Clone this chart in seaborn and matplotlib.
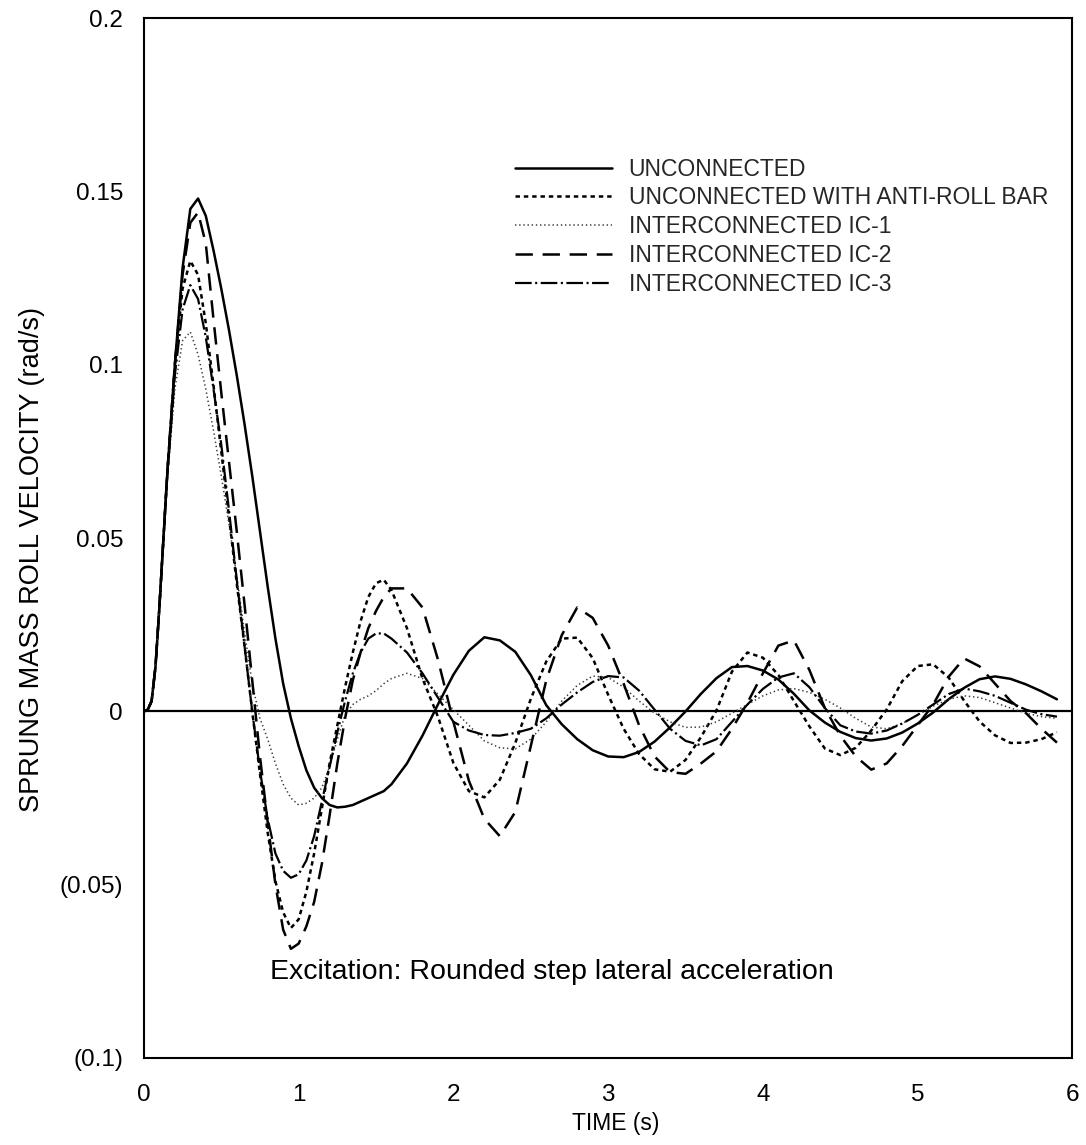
import matplotlib
matplotlib.use("Agg")
import matplotlib.pyplot as plt
import seaborn as sns
import pandas as pd
from matplotlib.ticker import MultipleLocator, FixedLocator, FixedFormatter

sns.set_style("white")
plt.rcParams['font.family'] = ['Liberation Sans', 'DejaVu Sans']
plt.rcParams['lines.scale_dashes'] = False

# ---------------- data ----------------
time = [0.00, 0.025, 0.05, 0.075, 0.10, 0.15, 0.20, 0.25, 0.30, 0.35, 0.40, 0.45, 0.50, 0.55,
        0.60, 0.65, 0.70, 0.75, 0.80, 0.85, 0.90, 0.95, 1.00, 1.05, 1.10, 1.15, 1.20,
        1.25, 1.30, 1.35, 1.40, 1.45, 1.50, 1.55, 1.60, 1.70, 1.80, 1.90, 2.00, 2.10,
        2.20, 2.30, 2.40, 2.50, 2.60, 2.70, 2.80, 2.90, 3.00, 3.10, 3.20, 3.30, 3.40,
        3.50, 3.60, 3.70, 3.80, 3.90, 4.00, 4.10, 4.20, 4.30, 4.40, 4.50, 4.60, 4.70,
        4.80, 4.90, 5.00, 5.10, 5.20, 5.30, 5.40, 5.50, 5.60, 5.70, 5.80, 5.90]

unconnected = [0.0, 0.0005, 0.003, 0.013, 0.030, 0.068, 0.100, 0.128, 0.145, 0.148, 0.143, 0.133,
               0.122, 0.110, 0.097, 0.083, 0.068, 0.052, 0.036, 0.021, 0.008, -0.002, -0.010,
               -0.017, -0.022, -0.025, -0.027, -0.0277, -0.0275, -0.027, -0.026, -0.025, -0.024,
               -0.023, -0.021, -0.015, -0.007, 0.002, 0.0106, 0.0175, 0.0214, 0.0205, 0.0172,
               0.0105, 0.0018, -0.0037, -0.0080, -0.0112, -0.0130, -0.0132, -0.0117, -0.0087,
               -0.0046, 0.0, 0.0051, 0.0096, 0.0128, 0.0131, 0.0118, 0.0092, 0.0051, 0.0003,
               -0.0032, -0.0059, -0.0077, -0.0084, -0.0078, -0.0061, -0.0035, -0.0003, 0.0035,
               0.0068, 0.0093, 0.0101, 0.0094, 0.0078, 0.0058, 0.0035]

anti_roll_bar = [0.0, 0.0005, 0.003, 0.013, 0.030, 0.068, 0.100, 0.122, 0.130, 0.126, 0.112, 0.094,
                 0.075, 0.056, 0.037, 0.019, 0.000, -0.018, -0.035, -0.049, -0.058, -0.0625,
                 -0.060, -0.052, -0.041, -0.028, -0.015, -0.004, 0.007, 0.017, 0.026, 0.033,
                 0.037, 0.038, 0.035, 0.024, 0.0095, -0.0015, -0.0149, -0.0230, -0.0248, -0.0197,
                 -0.0091, 0.0036, 0.0144, 0.0210, 0.0213, 0.0154, 0.0048, -0.0050, -0.0123,
                 -0.0167, -0.0174, -0.0140, -0.0074, 0.0003, 0.0115, 0.0170, 0.0155, 0.0105,
                 0.0030, -0.0043, -0.0107, -0.0126, -0.0105, -0.0055, 0.0006, 0.0087, 0.0131,
                 0.0136, 0.0098, 0.0031, -0.0029, -0.0069, -0.0091, -0.0090, -0.0080, -0.0060]

ic1 = [0.0, 0.0005, 0.003, 0.013, 0.030, 0.066, 0.093, 0.107, 0.1095, 0.103, 0.093, 0.081, 0.068,
       0.054, 0.039, 0.023, 0.008, -0.002, -0.008, -0.015, -0.021, -0.025, -0.027, -0.0265,
       -0.025, -0.022, -0.016, -0.008, -0.001, 0.002, 0.0035, 0.0045, 0.006, 0.008, 0.0095,
       0.011, 0.0095, 0.005, 0.0005, -0.004, -0.0085, -0.0105, -0.0108, -0.0080, -0.0030,
       0.0030, 0.0075, 0.0102, 0.0098, 0.0070, 0.0030, -0.0005, -0.0030, -0.0046, -0.0045,
       -0.0030, -0.0005, 0.0020, 0.0045, 0.0062, 0.0066, 0.0055, 0.0035, 0.0010, -0.0020,
       -0.0045, -0.0050, -0.0035, -0.0010, 0.0015, 0.0035, 0.0045, 0.0040, 0.0025, 0.0010,
       -0.0005, -0.0015, -0.0020]

ic2 = [0.0, 0.0005, 0.003, 0.013, 0.030, 0.068, 0.100, 0.126, 0.141, 0.144, 0.135, 0.113, 0.092,
       0.072, 0.052, 0.031, 0.009, -0.013, -0.032, -0.050, -0.063, -0.0685, -0.067, -0.062,
       -0.055, -0.044, -0.030, -0.015, -0.002, 0.009, 0.017, 0.024, 0.029, 0.033, 0.0355,
       0.0355, 0.030, 0.015, -0.003, -0.020, -0.031, -0.036, -0.029, -0.010, 0.009, 0.022,
       0.030, 0.027, 0.019, 0.008, -0.004, -0.013, -0.0175, -0.018, -0.015, -0.0115, -0.005,
       0.0025, 0.011, 0.019, 0.0205, 0.012, 0.001, -0.007, -0.013, -0.0168, -0.015, -0.010,
       -0.004, 0.002, 0.010, 0.0153, 0.013, 0.008, 0.003, -0.0005, -0.005, -0.009]

ic3 = [0.0, 0.0005, 0.003, 0.013, 0.030, 0.067, 0.097, 0.116, 0.123, 0.119, 0.108, 0.093, 0.077,
       0.058, 0.038, 0.019, 0.000, -0.017, -0.031, -0.041, -0.046, -0.048, -0.047, -0.043,
       -0.036, -0.026, -0.016, -0.006, 0.003, 0.011, 0.017, 0.021, 0.0225, 0.0225, 0.021,
       0.017, 0.011, 0.004, -0.003, -0.0055, -0.0068, -0.0070, -0.0062, -0.0050, -0.0020,
       0.0020, 0.0055, 0.0085, 0.0102, 0.0098, 0.0060, 0.0005, -0.0050, -0.0085, -0.0098,
       -0.0080, -0.0030, 0.0020, 0.0065, 0.0098, 0.0110, 0.0070, 0.0010, -0.0040, -0.0058,
       -0.0064, -0.0055, -0.0035, -0.0010, 0.0020, 0.0050, 0.0066, 0.0058, 0.0045, 0.0025,
       0.0005, -0.0008, -0.0015]

series_names = ["UNCONNECTED", "UNCONNECTED WITH ANTI-ROLL BAR", "INTERCONNECTED IC-1",
                "INTERCONNECTED IC-2", "INTERCONNECTED IC-3"]
series_values = [unconnected, anti_roll_bar, ic1, ic2, ic3]

y_tick_values = [-0.1, -0.05, 0.0, 0.05, 0.1, 0.15, 0.2]
y_tick_labels = ["(0.1)", "(0.05)", "0", "0.05", "0.1", "0.15", "0.2"]
x_tick_values = [0, 1, 2, 3, 4, 5, 6]
x_tick_labels = ["0", "1", "2", "3", "4", "5", "6"]

# ---------------- styles ----------------
styles = {
    "UNCONNECTED": dict(linestyle="-", lw=1.8, color="black"),
    "UNCONNECTED WITH ANTI-ROLL BAR": dict(linestyle=(0, (3.2, 2.8)), lw=1.8, color="black"),
    "INTERCONNECTED IC-1": dict(linestyle=(0, (1.0, 2.0)), lw=1.1, color="#3a3a3a"),
    "INTERCONNECTED IC-2": dict(linestyle=(0, (12.5, 7)), lw=1.8, color="black"),
    "INTERCONNECTED IC-3": dict(linestyle=(0, (12, 2.5, 1.5, 2.5)), lw=1.6, color="black"),
}

fig = plt.figure(figsize=(10.86, 11.45), dpi=100)
ax = fig.add_axes([0.1325, 0.076, 0.855, 0.908])

for name, vals in zip(series_names, series_values):
    df = pd.DataFrame({"time": time, "value": vals})
    sns.lineplot(data=df, x="time", y="value", ax=ax, label=name, sort=False,
                 estimator=None, **styles[name])

ax.axhline(0, color="black", lw=1.6, zorder=1)

ax.set_xlim(0, 6)
ax.set_ylim(-0.1, 0.2)

ax.xaxis.set_major_locator(FixedLocator(x_tick_values))
ax.xaxis.set_major_formatter(FixedFormatter(x_tick_labels))
ax.xaxis.set_minor_locator(MultipleLocator(0.5))
ax.yaxis.set_major_locator(FixedLocator(y_tick_values))
ax.yaxis.set_major_formatter(FixedFormatter(y_tick_labels))
ax.yaxis.set_minor_locator(MultipleLocator(0.025))

ax.tick_params(which="both", direction="in", top=False, right=False, color="black",
               labelcolor="black")
ax.tick_params(which="major", length=16, width=1.2, labelsize=17.5)
ax.tick_params(which="minor", length=8, width=1.0)
ax.tick_params(axis="y", which="major", pad=15)
ax.tick_params(axis="x", which="major", pad=19)

for sp in ax.spines.values():
    sp.set_visible(True)
    sp.set_color("black")
    sp.set_linewidth(1.5)

ax.set_xlabel("TIME (s)", fontsize=16.5, color="black")
ax.set_ylabel("SPRUNG MASS ROLL VELOCITY (rad/s)", fontsize=19.5, color="black")
ax.xaxis.set_label_coords(0.508, -0.052)
ax.yaxis.set_label_coords(-0.106, 0.479)

ax.text(0.1355, 0.083, "Excitation: Rounded step lateral acceleration",
        transform=ax.transAxes, fontsize=20.5, ha="left", va="center", color="black")

ax.legend(loc="upper left", bbox_to_anchor=(0.40, 0.866), frameon=False, fontsize=16.5,
          handlelength=4.2, handletextpad=0.75, labelspacing=0.25, borderpad=0,
          borderaxespad=0)

ax.grid(False)
fig.savefig("out.png", dpi=100, facecolor="white")
